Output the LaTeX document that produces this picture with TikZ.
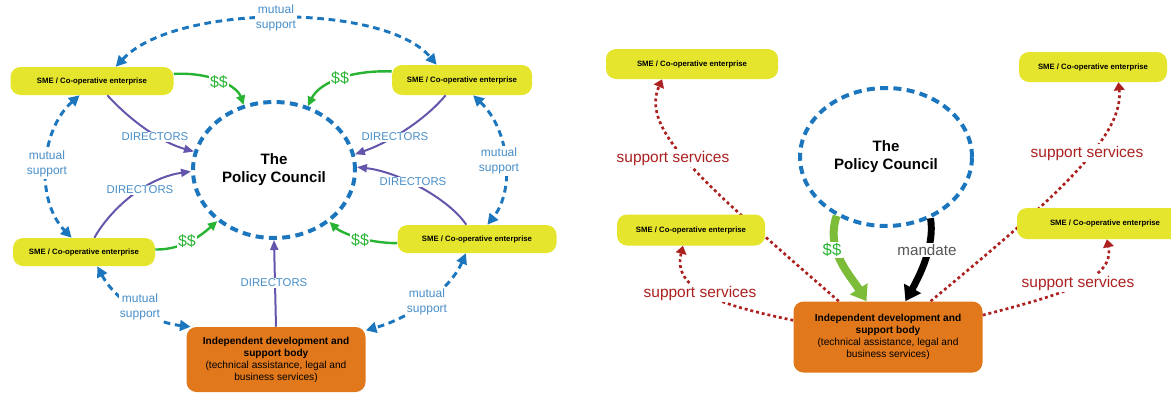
\documentclass[tikz,border=0pt]{standalone}
\usepackage{fontspec}
\setmainfont{Liberation Sans}
\usetikzlibrary{arrows.meta,shapes.geometric}

\definecolor{smeyellow}{RGB}{229,229,46}
\definecolor{bodyorange}{RGB}{225,120,28}
\definecolor{mutualblue}{RGB}{28,118,190}
\definecolor{labelblue}{RGB}{72,142,200}
\definecolor{dirpurple}{RGB}{100,86,172}
\definecolor{moneygreen}{RGB}{40,180,50}
\definecolor{fundgreen}{RGB}{124,188,56}
\definecolor{servicered}{RGB}{172,32,32}
\definecolor{mandategrey}{RGB}{85,85,85}

\pgfdeclarelayer{back}
\pgfsetlayers{back,main}

\tikzset{
  sme/.style={fill=smeyellow, rounded corners=7.5pt, inner sep=0pt,
    font=\fontsize{5.8}{7}\selectfont\bfseries},
  body/.style={fill=bodyorange, rounded corners=7.5pt, inner sep=0pt, align=center,
    font=\fontsize{7.6}{9}\selectfont},
  council/.style={ellipse, draw=mutualblue, line width=3pt, dash pattern=on 6pt off 4pt,
    inner sep=0pt, align=center, font=\fontsize{11.3}{13.5}\selectfont\bfseries},
  mutual/.style={mutualblue, line width=2.2pt, dash pattern=on 5pt off 3.5pt,
    {Triangle[length=8pt,width=8pt]}-{Triangle[length=8pt,width=8pt]}},
  money/.style={moneygreen, line width=1.8pt, -{Triangle[length=7pt,width=6.5pt]}},
  director/.style={dirpurple, line width=1.5pt, -{Triangle[length=7.5pt,width=6pt]}},
  service/.style={servicered, line width=2pt, dash pattern=on 2.2pt off 2.2pt,
    -{Triangle[length=6pt,width=8pt]}},
  fund/.style={fundgreen, line width=6pt, -{Triangle[length=11pt,width=15pt]}},
  mandatearrow/.style={black, line width=5.2pt, -{Triangle[length=11pt,width=14pt]}},
  mlabel/.style={fill=white, inner sep=1pt, align=center, text=labelblue,
    font=\fontsize{9}{11.5}\selectfont},
  dlabel/.style={fill=white, inner sep=1pt, text=labelblue, font=\fontsize{8.5}{10}\selectfont},
  slabel/.style={fill=white, inner sep=1pt, text=moneygreen, font=\fontsize{12}{14}\selectfont},
  svlabel/.style={fill=white, inner sep=1pt, text=servicered, font=\fontsize{11.6}{14}\selectfont},
}

\begin{document}
\begin{tikzpicture}[x=0.75pt,y=0.75pt,yscale=-1,xscale=1]
\useasboundingbox (0,0) rectangle (1171,394);
\clip (0,0) rectangle (1171,394);

%%% left diagram: directors
% Policy council
\node[council, minimum width=121.5pt, minimum height=102pt] (pc) at (274,170) {The\\Policy Council};
% SME boxes
\node[sme, minimum width=122.25pt, minimum height=21pt] (smeNW) at (92,81) {SME / Co-operative enterprise};
\node[sme, minimum width=105pt, minimum height=22.5pt] (smeNE) at (462,80) {SME / Co-operative enterprise};
\node[sme, minimum width=106.5pt, minimum height=21pt] (smeSW) at (84,252) {SME / Co-operative enterprise};
\node[sme, minimum width=119.25pt, minimum height=21pt] (smeSE) at (477,239) {SME / Co-operative enterprise};
% support body
\node[body, minimum width=134.25pt, minimum height=48.75pt] (bodyL) at (276,359.5)
  {\textbf{Independent development and}\\\textbf{support body}\\(technical assistance, legal and\\business services)};

% mutual support
\draw[mutual] (smeNW.31) .. controls (175,3) and (385,3) .. (smeNE.149);
\draw[mutual] (smeNW.229) .. controls (40,130) and (35,200) .. (smeSW.131);
\draw[mutual] (smeNE.-54) .. controls (510,130) and (515,190) .. (smeSE.54);
\draw[mutual] (smeSW.-47) .. controls (115,300) and (150,322) .. (bodyL.159);
\draw[mutual] (smeSE.-128) .. controls (450,290) and (410,318) .. (bodyL.18);
% money
\draw[money] (smeNW.5) .. controls (215,72) and (238,88) .. (pc.115);
\draw[money] (smeNE.173) .. controls (345,70) and (318,85) .. (pc.62);
\draw[money] (smeSW.2) .. controls (185,250) and (205,232) .. (pc.222);
\draw[money] (smeSE.183) .. controls (365,243) and (340,232) .. (pc.-43);
% directors
\draw[director] (smeNW.-43) .. controls (130,120) and (160,142) .. (pc.167);
\draw[director] (smeSW.54) .. controls (110,210) and (145,178) .. (pc.181);
\draw[director] (smeNE.-137) .. controls (425,120) and (390,142) .. (pc.11);
\draw[director] (smeSE.127) .. controls (450,200) and (400,172) .. (pc.2);
\draw[director] (bodyL.north) -- (pc.south);

% Text Node
\node[mlabel] (msTop) at (276,18) {mutual\\support};
\node[mlabel] (msLeft) at (47,164) {mutual\\support};
\node[mlabel] (msRight) at (499,161) {mutual\\support};
\node[mlabel] (msSW) at (140,307) {mutual\\support};
\node[mlabel] (msSE) at (427,302) {mutual\\support};
\node[slabel] (mNW) at (219,82) {\$\$};
\node[slabel] (mNE) at (340,78) {\$\$};
\node[slabel] (mSW) at (187,241) {\$\$};
\node[slabel] (mSE) at (360,240) {\$\$};
\node[dlabel] (dNW) at (155,137) {DIRECTORS};
\node[dlabel] (dSW) at (140,190) {DIRECTORS};
\node[dlabel] (dNE) at (395,137) {DIRECTORS};
\node[dlabel] (dSE) at (413,182) {DIRECTORS};
\node[dlabel] (dBody) at (274,283) {DIRECTORS};

%%% right diagram: mandate
\node[council, minimum width=129pt, minimum height=103.5pt] (pcR) at (886,157) {The\\Policy Council};
\node[sme, minimum width=129pt, minimum height=22.5pt] (smeA) at (692,64) {SME / Co-operative enterprise};
\node[sme, minimum width=111pt, minimum height=22.5pt] (smeB) at (1093,67) {SME / Co-operative enterprise};
\node[sme, minimum width=111pt, minimum height=23.25pt] (smeC) at (691,230) {SME / Co-operative enterprise};
\node[sme, minimum width=132pt, minimum height=23.25pt] (smeD) at (1105,223.5) {SME / Co-operative enterprise};
\node[body, minimum width=141.75pt, minimum height=53.25pt] (bodyR) at (888,337)
  {\textbf{Independent development and}\\\textbf{support body}\\(technical assistance, legal and\\business services)};

% support services (behind the boxes)
\begin{pgfonlayer}{back}
\draw[service] (bodyR.144) .. controls (700,180) and (640,130) .. (smeA.207);
\draw[service] (bodyR.40) .. controls (1040,210) and (1125,140) .. (smeB.-31);
\end{pgfonlayer}
\draw[service] (bodyR.170) .. controls (720,305) and (672,290) .. (smeC.243);
\draw[service] (bodyR.13) .. controls (1060,295) and (1115,280) .. (smeD.-83);
% funds and mandate
\draw[fund] (pcR.230) .. controls (825,250) and (850,275) .. (bodyR.121);
\draw[mandatearrow] (pcR.-54) .. controls (935,245) and (920,275) .. (bodyR.64);

% Text Node
\node[svlabel] (svA) at (673,158) {support services};
\node[svlabel] (svB) at (1087,153) {support services};
\node[svlabel] (svC) at (700,293) {support services};
\node[svlabel] (svD) at (1078,283) {support services};
\node[slabel, font=\fontsize{12.5}{14}\selectfont] (mR) at (832,250) {\$\$};
\node[fill=white, inner sep=1pt, text=mandategrey, font=\fontsize{11.4}{14}\selectfont] (mandate) at (927,250) {mandate};

\end{tikzpicture}
\end{document}
